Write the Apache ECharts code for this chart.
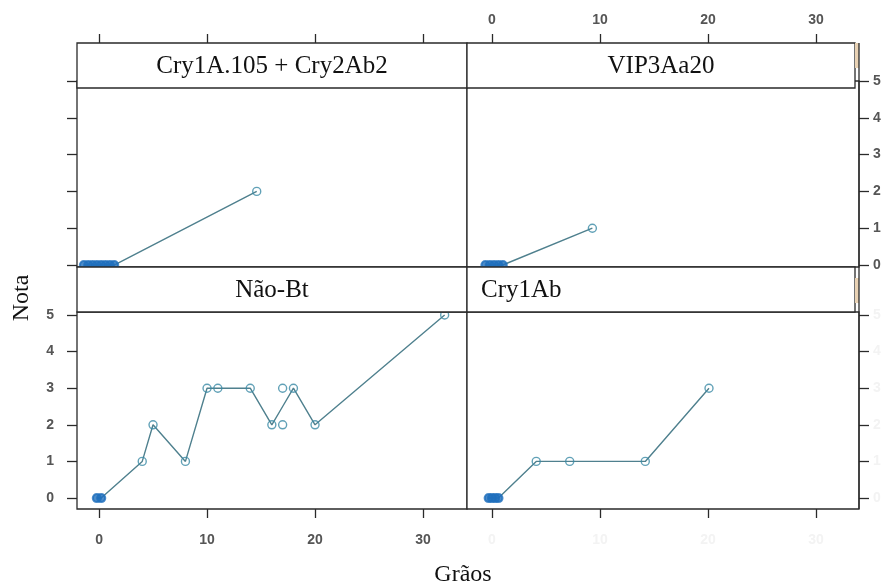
<!DOCTYPE html>
<html>
<head>
<meta charset="utf-8">
<script src="https://cdn.jsdelivr.net/npm/echarts@6/dist/echarts.min.js"></script>
<style>
  html, body { margin: 0; padding: 0; background: #fff; }
  #chart { width: 885px; height: 585px; }
</style>
</head>
<body>
<div id="chart"></div>
<script>
// ticks
const xTicks = [0, 10, 20, 30];
const yTicks = [0, 1, 2, 3, 4, 5];
// painéis (ordem: topo-esq, topo-dir, baixo-esq, baixo-dir)
const panelNames = ['Cry1A.105 + Cry2Ab2', 'VIP3Aa20', 'Não-Bt', 'Cry1Ab'];

// Grãos (x) e Nota (y) por painel
const graosCry1A105 = [-1.4, -1, -0.6, -0.2, 0.2, 0.6, 1, 1.4, 14.6];
const notaCry1A105  = [0, 0, 0, 0, 0, 0, 0, 0, 2];
const graosVIP = [-0.6, -0.2, 0.2, 0.6, 1.0, 9.3];
const notaVIP  = [0, 0, 0, 0, 0, 1];
const graosNaoBt = [-0.2, 0.2, 4, 5, 8, 10, 11, 14, 16, 17, 17, 18, 20, 32];
const notaNaoBt  = [0, 0, 1, 2, 1, 3, 3, 3, 2, 2, 3, 3, 2, 5];
const graosCry1Ab = [-0.3, 0, 0.3, 0.6, 4.1, 7.2, 14.2, 20.1];
const notaCry1Ab  = [0, 0, 0, 0, 1, 1, 1, 3];

const panelData = [
  [graosCry1A105, notaCry1A105],
  [graosVIP, notaVIP],
  [graosNaoBt, notaNaoBt],
  [graosCry1Ab, notaCry1Ab]
];

// media por valor de x (como type="a" do lattice)
function averages(xs, ys) {
  const m = {};
  xs.forEach((x, i) => { (m[x] = m[x] || []).push(ys[i]); });
  return Object.keys(m).map(Number).sort((a, b) => a - b)
    .map(x => [x, m[x].reduce((s, v) => s + v, 0) / m[x].length]);
}

const lineColor = '#4f808e';
const ptColor = '#3a8aa5';
const blobColor = '#1f6fbd';
const axisColor = '#2a2a2a';

// layout dos paineis
const cols = [{left: 77, width: 390, min: -2.04, max: 34.07},
              {left: 467, width: 392, min: -2.31, max: 33.99}];
const rows = [{top: 81, height: 186, min: -0.054, max: 5},
              {top: 312, height: 197, min: -0.30, max: 5.082}];

const grids = [], xAxes = [], yAxes = [], series = [];
const labelStyle = {fontFamily: 'Liberation Sans', fontWeight: 'bold', fontSize: 14, color: '#555'};
const faintStyle = {fontFamily: 'Liberation Sans', fontWeight: 'bold', fontSize: 14, color: '#f3f3f3'};

for (let i = 0; i < 4; i++) {
  const c = cols[i % 2], r = rows[Math.floor(i / 2)];
  grids.push({left: c.left, top: r.top, width: c.width, height: r.height,
    show: true, borderColor: axisColor, borderWidth: 1.3, backgroundColor: '#fff'});

  let xPos = 'bottom', xOffset = 0, xLabel = false, xLabStyle = labelStyle, xMargin = 24;
  if (i < 2) { xPos = 'top'; xOffset = 38; xLabel = (i === 1); xMargin = 16; }
  if (i === 2) xLabel = true;
  if (i === 3) { xLabel = true; xLabStyle = faintStyle; }
  xAxes.push({
    gridIndex: i, type: 'value', position: xPos, offset: xOffset,
    min: c.min, max: c.max,
    axisLine: {show: false, onZero: false}, splitLine: {show: false},
    axisTick: {show: true, length: 9, customValues: xTicks, lineStyle: {color: axisColor, width: 1.3}},
    axisLabel: Object.assign({show: xLabel, customValues: xTicks, margin: xMargin}, xLabStyle)
  });

  const yPos = (i % 2 === 0) ? 'left' : 'right';
  let yLabel = false, yLabStyle = labelStyle, yMargin = 23;
  if (i === 1 || i === 2) yLabel = true;
  if (i === 3) { yLabel = true; yLabStyle = faintStyle; }
  if (i % 2 === 1) yMargin = 14;
  yAxes.push({
    gridIndex: i, type: 'value', position: yPos,
    min: r.min, max: r.max,
    axisLine: {show: false, onZero: false}, splitLine: {show: false},
    axisTick: {show: true, length: 10, customValues: yTicks, lineStyle: {color: axisColor, width: 1.3}},
    axisLabel: Object.assign({show: yLabel, customValues: yTicks, margin: yMargin}, yLabStyle)
  });

  const xs = panelData[i][0], ys = panelData[i][1];
  series.push({
    type: 'line', xAxisIndex: i, yAxisIndex: i, z: 2,
    data: averages(xs, ys), showSymbol: false, symbol: 'none',
    lineStyle: {color: lineColor, width: 1.4}, clip: true, animation: false
  });
  series.push({
    type: 'scatter', xAxisIndex: i, yAxisIndex: i, z: 3, symbol: 'circle', symbolSize: 8,
    data: xs.map((x, k) => ({
      value: [x, ys[k]],
      itemStyle: ys[k] === 0
        ? {color: blobColor, borderColor: blobColor, borderWidth: 2.2}
        : {color: 'rgba(255,255,255,0)', borderColor: ptColor, borderWidth: 1.4}
    })),
    clip: true, animation: false
  });
}

// faixas (strips) com nomes dos paineis
const serif = 'Liberation Serif';
const graphics = [];
const strips = [
  {x: 77, y: 43, w: 390, h: 45, align: 'center'},
  {x: 467, y: 43, w: 388, h: 45, align: 'center'},
  {x: 77, y: 267, w: 390, h: 45, align: 'center'},
  {x: 467, y: 267, w: 388, h: 45, align: 'left'}
];
strips.forEach((s, i) => {
  graphics.push({type: 'rect', z: 100, shape: {x: s.x, y: s.y, width: s.w, height: s.h},
    style: {fill: '#fff', stroke: axisColor, lineWidth: 1.3}});
  graphics.push({type: 'text', z: 101,
    x: s.align === 'center' ? s.x + s.w / 2 : s.x + 14, y: s.y + s.h / 2 + 1,
    style: {text: panelNames[i], font: '25px "' + serif + '"', fill: '#111',
      textAlign: s.align, textVerticalAlign: 'middle'}});
});
// pequenos marcadores ao lado das faixas da direita
graphics.push({type: 'rect', z: 100, shape: {x: 855, y: 43, width: 4, height: 25}, style: {fill: '#e9d2b4'}});
graphics.push({type: 'rect', z: 100, shape: {x: 855, y: 278, width: 4, height: 25}, style: {fill: '#e9d2b4'}});
graphics.push({type: 'line', z: 100, shape: {x1: 859, y1: 43, x2: 859, y2: 509},
  style: {stroke: axisColor, lineWidth: 1.3}});
// titulos dos eixos
graphics.push({type: 'text', z: 101, x: 22, y: 298, rotation: Math.PI / 2,
  style: {text: 'Nota', font: '24px "' + serif + '"', fill: '#111', textAlign: 'center', textVerticalAlign: 'middle'}});
graphics.push({type: 'text', z: 101, x: 463, y: 575,
  style: {text: 'Grãos', font: '24px "' + serif + '"', fill: '#111', textAlign: 'center', textVerticalAlign: 'middle'}});

const chart = echarts.init(document.getElementById('chart'), null, {renderer: 'canvas'});
chart.setOption({
  animation: false,
  backgroundColor: '#fff',
  grid: grids,
  xAxis: xAxes,
  yAxis: yAxes,
  series: series,
  graphic: graphics
});
</script>
</body>
</html>
